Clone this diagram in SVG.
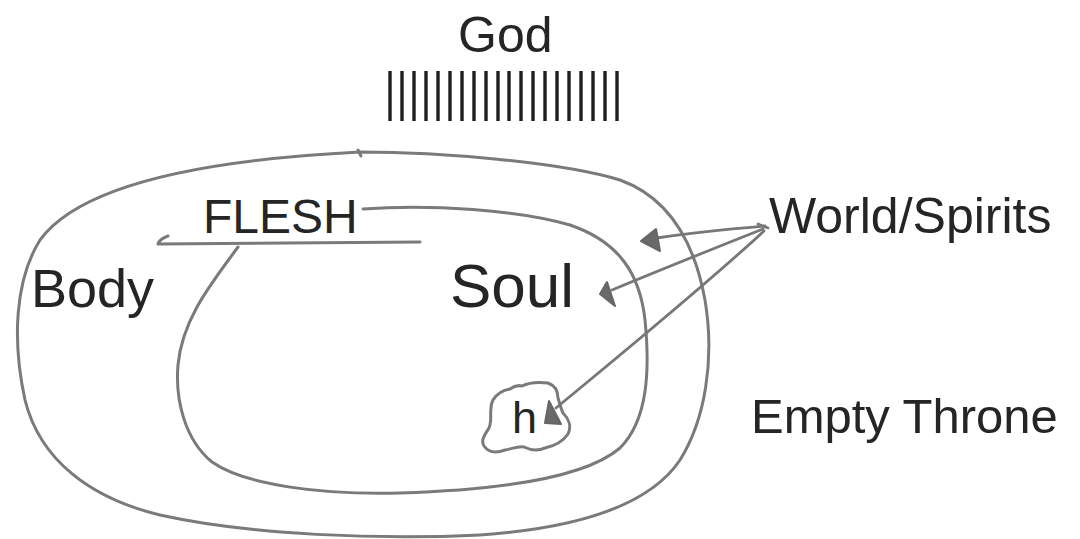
<svg xmlns="http://www.w3.org/2000/svg" width="1080" height="539" viewBox="0 0 1080 539">
<style>
.t{font-family:"Liberation Sans",Arial,sans-serif;fill:#252525}
.sk{fill:none;stroke:#7a7a7a;stroke-width:3;stroke-linecap:round;stroke-linejoin:round}
.bar{stroke:#1e1e1e;stroke-width:3.4}
.ar{fill:none;stroke:#777;stroke-width:2.8;stroke-linecap:round}
.hd{fill:#6a6a6a;stroke:#666;stroke-width:2;stroke-linejoin:round}
</style>
<rect width="1080" height="539" fill="#fff"/>
<g id="god">
<text class="t" x="458" y="52" font-size="50">God</text>
<g id="bars">
<line class="bar" x1="390" y1="71" x2="390" y2="121"/>
<line class="bar" x1="402" y1="71" x2="402" y2="121"/>
<line class="bar" x1="414" y1="71" x2="414" y2="121"/>
<line class="bar" x1="426" y1="71" x2="426" y2="121"/>
<line class="bar" x1="438" y1="71" x2="438" y2="121"/>
<line class="bar" x1="450" y1="71" x2="450" y2="121"/>
<line class="bar" x1="462" y1="71" x2="462" y2="121"/>
<line class="bar" x1="474" y1="71" x2="474" y2="121"/>
<line class="bar" x1="486" y1="71" x2="486" y2="121"/>
<line class="bar" x1="498" y1="71" x2="498" y2="121"/>
<line class="bar" x1="509" y1="71" x2="509" y2="121"/>
<line class="bar" x1="521" y1="71" x2="521" y2="121"/>
<line class="bar" x1="533" y1="71" x2="533" y2="121"/>
<line class="bar" x1="545" y1="71" x2="545" y2="121"/>
<line class="bar" x1="557" y1="71" x2="557" y2="121"/>
<line class="bar" x1="569" y1="71" x2="569" y2="121"/>
<line class="bar" x1="581" y1="71" x2="581" y2="121"/>
<line class="bar" x1="593" y1="71" x2="593" y2="121"/>
<line class="bar" x1="605" y1="71" x2="605" y2="121"/>
<line class="bar" x1="617" y1="71" x2="617" y2="121"/>
</g>
</g>
<g id="body">
<path class="sk" d="M360,152 C440,152 560,162 620,180 C670,198 695,245 705,300 C715,360 705,420 680,460 C650,505 580,528 480,535 C380,540 250,535 160,515 C90,498 40,460 25,400 C12,340 15,280 40,240 C80,185 200,160 360,152 Z"/>
<path class="sk" d="M358,150 L361,156" stroke-width="2"/>
<text class="t" x="31" y="307" font-size="54">Body</text>
</g>
<g id="flesh">
<text class="t" x="203" y="233" font-size="48">FLESH</text>
<path class="sk" d="M168,236 C162,238 159,241 158,244 L420,242"/>
</g>
<g id="soul">
<path class="sk" d="M363,209 C430,204 520,210 570,225 C620,242 640,275 645,320 C650,370 648,420 620,448 C585,478 500,490 400,493 C320,495 245,485 212,462 C185,440 175,400 178,365 C182,320 210,285 238,247"/>
<text class="t" x="450" y="307" font-size="62">Soul</text>
</g>
<g id="heart">
<path class="sk" d="M493,400 C498,392 504,390 510,389 C514,386 518,385 522,386 C530,382 540,382 548,383 C556,386 558,392 558,398 C560,404 561,409 563,413 C568,418 572,426 568,434 C562,443 554,446 545,448 C538,451 530,450 524,447 C517,446 512,449 505,450 C497,453 489,453 484,446 C480,440 486,433 489,428 C492,421 490,414 491,408 C491,404 492,402 493,400 Z"/>
<text class="t" x="512" y="433" font-size="45">h</text>
</g>
<g id="world">
<text class="t" x="769" y="233" font-size="50">World/Spirits</text>
</g>
<g id="throne">
<text class="t" x="751" y="433" font-size="49">Empty Throne</text>
</g>
<g id="connectors">
<path class="ar" d="M765,226 C730,229 690,233 657,238"/>
<polygon class="hd" points="641,241 656,229 660,251"/>
<path class="ar" d="M763,229 C710,250 660,270 612,290"/>
<polygon class="hd" points="600,294 607,282 615,306"/>
<path class="ar" d="M764,231 C700,290 620,355 556,408"/>
<polygon class="hd" points="545,423 549,401 561,424"/>
<path class="ar" d="M758,224 L768,228" stroke-width="4"/>
</g>
</svg>
